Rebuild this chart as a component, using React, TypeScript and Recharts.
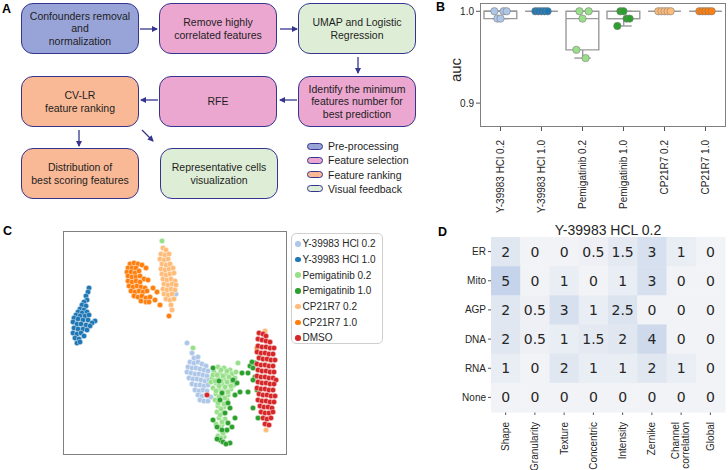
import React from 'react'
import { ComposedChart, ScatterChart, Bar, Scatter, XAxis, YAxis } from 'recharts'

const FONT = '"Liberation Sans", Arial, Helvetica, sans-serif'
const INK = '#262626'
const NAVY = '#35358f'

// Panel B: cross-validated AUC per treatment
const aucGroups = ['Y-39983 HCl 0.2', 'Y-39983 HCl 1.0', 'Pemigatinib 0.2', 'Pemigatinib 1.0', 'CP21R7 0.2', 'CP21R7 1.0']
const aucHcl02 = [1.0, 0.992, 0.992, 1.0, 1.0]
const aucHcl10 = [1.0, 1.0, 1.0, 1.0, 1.0]
const aucPem02 = [0.958, 1.0, 0.992, 0.949, 1.0]
const aucPem10 = [0.984, 1.0, 1.0, 0.992, 0.992]
const aucCp02 = [1.0, 1.0, 1.0, 1.0, 1.0]
const aucCp10 = [1.0, 1.0, 1.0, 1.0, 1.0]
const aucTicks = [0.9, 1.0]

// Panel C: UMAP embedding, [umap1, umap2]
const umapHcl02 = [[12.4,11.2],[12.9,10.2],[13.1,9.7],[13.5,9.8],[12.7,9.3],[13.1,9.2],[13.5,9.3],[13.9,9.1],[14.3,8.9],[12.5,8.8],[12.9,8.7],[13.3,8.7],[13.7,8.6],[14.1,8.5],[14.5,8.4],[12.4,8.3],[12.8,8.2],[13.2,8.1],[13.6,8.1],[14.0,8.0],[14.4,7.9],[12.6,7.7],[13.0,7.6],[13.4,7.6],[13.8,7.5],[14.2,7.4],[14.6,7.5],[12.9,7.1],[13.3,7.0],[13.7,7.0],[14.1,6.9],[14.5,7.0],[13.2,6.5],[13.6,6.4],[14.0,6.5],[14.4,6.4],[13.5,6.0],[13.9,5.9],[14.3,6.0],[13.7,5.5],[14.1,5.4],[14.5,5.4],[14.8,5.8],[11.3,16.1]]
const umapHcl10 = [[2.6,16.7],[2.5,16.3],[2.3,15.9],[2.4,15.5],[2.1,15.3],[1.9,15.0],[2.3,14.9],[1.7,14.6],[2.1,14.5],[1.5,14.3],[1.9,14.2],[2.4,14.3],[1.3,14.0],[1.7,13.9],[2.2,13.9],[2.6,14.0],[1.1,13.7],[1.5,13.6],[2.0,13.5],[2.5,13.5],[3.2,13.4],[2.9,13.2],[1.0,13.3],[1.4,13.1],[1.8,13.1],[2.3,13.0],[2.7,12.9],[1.1,12.7],[1.5,12.6],[2.0,12.6],[2.4,12.5],[1.0,12.2],[1.4,12.1],[1.8,12.2],[1.2,11.7],[1.6,11.6],[2.1,11.9],[1.4,11.2],[1.7,11.3]]
const umapPem02 = [[13.0,10.7],[17.5,9.2],[15.5,8.8],[16.1,8.7],[16.7,8.5],[15.1,8.3],[15.7,8.2],[16.3,8.1],[16.9,8.1],[17.3,8.3],[14.9,7.7],[15.5,7.7],[16.1,7.6],[16.7,7.5],[15.3,7.2],[15.9,7.1],[16.5,7.1],[17.1,7.0],[15.0,6.7],[15.6,6.6],[16.2,6.5],[16.8,6.6],[15.3,6.1],[15.9,6.0],[16.5,6.0],[15.2,5.5],[15.8,5.4],[16.4,5.5],[15.5,4.9],[16.1,4.8],[15.4,4.3],[16.0,4.2],[15.6,3.7],[16.2,3.6],[15.3,3.1],[15.9,3.0],[15.7,2.5],[16.3,2.4],[15.5,1.9],[16.1,1.8],[15.8,1.4],[15.0,8.0],[14.8,7.3],[9.9,21.4],[19.7,10.0],[20.5,9.5],
  [15.8,8.5],[16.4,8.4],[15.4,8.0],[16.0,7.9],[16.6,7.8],[17.2,7.7],[15.2,7.4],[15.8,7.4],[16.4,7.3],[16.9,7.3],[15.6,6.9],[16.2,6.8],[16.8,6.9],[15.3,6.4],[15.9,6.3],[16.5,6.3],[15.6,5.8],[16.2,5.7],[15.5,5.2],[16.1,5.1],[15.8,4.6],[15.7,4.0],[15.9,3.3],[15.6,2.8],[16.0,2.2],[15.8,1.7]]
const umapPem10 = [[15.6,7.4],[17.9,8.2],[18.7,8.9],[19.2,9.2],[18.5,8.2],[19.4,6.5],[17.7,6.3],[18.5,6.3],[19.0,4.7],[19.5,3.7],[15.0,3.5],[17.2,3.7],[16.7,4.7],[15.9,6.2],[16.5,5.2],[16.4,2.5],[15.7,1.5],[16.0,1.3],[15.4,1.6],[16.9,2.8],[17.4,7.2],[17.0,7.5],[15.7,5.5],[16.2,4.2],[16.5,3.2],[15.9,2.5],[15.4,2.8],[18.9,9.3],[19.0,8.7],[19.2,7.8],[19.0,7.5],[16.7,1.2],[16.3,1.1],[15.0,8.7],[17.2,6.0]]
const umapCp02 = [[10.0,20.7],[10.3,20.5],[9.8,20.1],[10.2,20.0],[10.6,20.1],[9.7,19.6],[10.1,19.5],[10.5,19.6],[9.9,19.1],[10.3,19.0],[10.7,19.1],[9.8,18.6],[10.2,18.5],[10.6,18.6],[11.0,18.7],[9.9,18.1],[10.3,18.0],[10.7,18.1],[11.1,18.2],[10.0,17.6],[10.4,17.5],[10.8,17.6],[11.2,17.4],[10.1,17.1],[10.5,17.0],[10.9,17.1],[11.3,17.0],[10.0,16.6],[10.4,16.5],[10.8,16.6],[11.2,16.5],[10.1,16.1],[10.5,16.0],[10.9,16.1],[10.3,15.6],[10.7,15.5],[11.1,15.6],[10.8,15.0],[10.9,14.5],[20.2,12.4],[20.3,2.5]]
const umapCp10 = [[6.7,19.1],[7.1,19.2],[7.5,19.1],[7.9,19.0],[8.3,18.7],[6.5,18.7],[6.9,18.7],[7.3,18.7],[6.4,18.3],[6.8,18.3],[7.2,18.2],[7.6,18.4],[6.5,17.9],[6.9,17.8],[7.3,17.8],[7.7,17.9],[8.1,17.6],[8.5,17.5],[6.5,17.4],[6.9,17.3],[7.3,17.4],[7.7,17.3],[6.6,16.9],[7.0,16.8],[7.4,16.9],[7.8,16.8],[8.2,16.7],[6.8,16.4],[7.2,16.3],[7.6,16.4],[8.0,16.3],[8.4,16.4],[7.1,15.9],[7.5,15.8],[7.9,15.9],[8.3,15.7],[8.7,15.8],[7.8,15.4],[8.3,15.3],[8.6,15.3],[9.0,16.7],[9.4,16.3],[9.2,15.5],[9.7,15.0],[10.6,13.9],[19.4,10.7]]
const umapDmso = [[19.6,12.2],[20.0,12.1],[20.3,11.9],[19.5,11.6],[19.9,11.5],[20.3,11.4],[20.7,11.3],[19.5,10.9],[19.9,10.8],[20.3,10.8],[20.7,10.7],[21.1,10.7],[19.4,10.3],[19.8,10.2],[20.2,10.2],[20.6,10.1],[21.0,10.1],[19.6,9.7],[20.0,9.6],[20.4,9.6],[20.8,9.5],[21.2,9.5],[19.4,9.1],[19.8,9.0],[20.2,9.0],[20.6,8.9],[21.0,8.9],[19.5,8.5],[19.9,8.4],[20.3,8.4],[20.7,8.3],[21.1,8.3],[19.4,7.9],[19.8,7.8],[20.2,7.8],[20.6,7.7],[21.0,7.7],[21.3,7.5],[19.5,7.3],[19.9,7.2],[20.3,7.2],[20.7,7.1],[21.1,7.1],[19.4,6.7],[19.8,6.6],[20.2,6.6],[20.6,6.5],[21.0,6.5],[19.6,6.1],[20.0,6.0],[20.4,6.0],[20.8,5.9],[21.2,5.9],[19.5,5.5],[19.9,5.4],[20.3,5.4],[20.7,5.3],[21.1,5.3],[19.7,4.9],[20.1,4.8],[20.5,4.8],[20.9,4.7],[19.8,4.3],[20.2,4.2],[20.6,4.2],[21.0,4.3],[20.0,3.7],[20.4,3.6],[20.8,3.7],[20.2,3.1],[20.6,3.0],[14.4,6.0]]

// Panel D: best-scoring feature counts, rows = channels, columns = feature types
const channels = ['ER', 'Mito', 'AGP', 'DNA', 'RNA', 'None']
const featureTypes = ['Shape', 'Granularity', 'Texture', 'Concentric', 'Intensity', 'Zernike', 'Channel correlation', 'Global']
const countsER = [2, 0, 0, 0.5, 1.5, 3, 1, 0]
const countsMito = [5, 0, 1, 0, 1, 3, 0, 0]
const countsAGP = [2, 0.5, 3, 1, 2.5, 0, 0, 0]
const countsDNA = [2, 0.5, 1, 1.5, 2, 4, 0, 0]
const countsRNA = [1, 0, 2, 1, 1, 2, 1, 0]
const countsNone = [0, 0, 0, 0, 0, 0, 0, 0]

const TREAT_COLORS = ['#aec7e8', '#1f77b4', '#98df8a', '#2ca02c', '#ffbb78', '#ff7f0e', '#d62728']

// ---------- Panel A (flow diagram) ----------
const STEP = { pre: '#98a4d8', sel: '#eba7d0', rank: '#f9b996', vis: '#deeed6' }

const flowBoxes = [
  { lines: ['Confounders removal', 'and', 'normalization'], kind: 'pre', left: 21, top: 3 },
  { lines: ['Remove highly', 'correlated features'], kind: 'sel', left: 159, top: 3 },
  { lines: ['UMAP and Logistic', 'Regression'], kind: 'vis', left: 298, top: 3 },
  { lines: ['Identify the minimum', 'features number for', 'best prediction'], kind: 'sel', left: 298, top: 76 },
  { lines: ['RFE'], kind: 'sel', left: 159, top: 76 },
  { lines: ['CV-LR', 'feature ranking'], kind: 'rank', left: 21, top: 76 },
  { lines: ['Distribution of', 'best scoring features'], kind: 'rank', left: 21, top: 148 },
  { lines: ['Representative cells', 'visualization'], kind: 'vis', left: 160, top: 148 },
]

const flowLegend = [
  { label: 'Pre-processing', kind: 'pre' },
  { label: 'Feature selection', kind: 'sel' },
  { label: 'Feature ranking', kind: 'rank' },
  { label: 'Visual feedback', kind: 'vis' },
]

const arrows = [
  [140, 29, 157, 29],
  [280, 29, 297, 29],
  [358, 57, 358, 73],
  [297, 100, 280, 100],
  [158, 100, 141, 100],
  [79, 130, 79, 146],
  [142, 130, 153, 141],
]

function PanelA() {
  return (
    <>
      {flowBoxes.map((b, i) => (
        <div
          key={i}
          style={{
            position: 'absolute', left: b.left, top: b.top, width: 116, height: 49,
            background: (STEP as any)[b.kind], border: `1.3px solid ${NAVY}`, borderRadius: 12,
            display: 'flex', flexDirection: 'column', alignItems: 'center', justifyContent: 'center',
            fontSize: 10.5, lineHeight: '12.6px', color: '#1e1e1e', textAlign: 'center',
          }}
        >
          {b.lines.map((l) => <div key={l}>{l}</div>)}
        </div>
      ))}
      <svg style={{ position: 'absolute', left: 0, top: 0 }} width={440} height={205}>
        <defs>
          <marker id="ah" markerWidth="6" markerHeight="6" refX="5" refY="3" orient="auto" markerUnits="userSpaceOnUse">
            <path d="M0,0 L6,3 L0,6 z" fill={NAVY} />
          </marker>
        </defs>
        {arrows.map((a, i) => (
          <line key={i} x1={a[0]} y1={a[1]} x2={a[2]} y2={a[3]} stroke={NAVY} strokeWidth={1.3} markerEnd="url(#ah)" />
        ))}
      </svg>
      {flowLegend.map((f, i) => (
        <div key={f.label} style={{ position: 'absolute', left: 307, top: 139 + i * 14.3, height: 14, display: 'flex', alignItems: 'center' }}>
          <div style={{ width: 14, height: 5, background: (STEP as any)[f.kind], border: `1.3px solid ${NAVY}`, borderRadius: 4 }} />
          <span style={{ marginLeft: 5, fontSize: 10.5, color: '#1e1e1e' }}>{f.label}</span>
        </div>
      ))}
    </>
  )
}

// ---------- Panel B (box + strip plot) ----------
const aucSeries = [aucHcl02, aucHcl10, aucPem02, aucPem10, aucCp02, aucCp10]

function quantile(sorted: number[], p: number) {
  const pos = (sorted.length - 1) * p
  const lo = Math.floor(pos)
  const hi = Math.ceil(pos)
  return sorted[lo] + (sorted[hi] - sorted[lo]) * (pos - lo)
}

const boxRows = aucGroups.map((name, g) => {
  const s = [...aucSeries[g]].sort((a, b) => a - b)
  const q1 = quantile(s, 0.25)
  const q3 = quantile(s, 0.75)
  const med = quantile(s, 0.5)
  const iqr = q3 - q1
  const lo = Math.min(...s.filter((v) => v >= q1 - 1.5 * iqr))
  const hi = Math.max(...s.filter((v) => v <= q3 + 1.5 * iqr))
  return { name, box: [q1, q3], whisker: [lo, hi], med, lo, hi }
})

const pointRows = aucSeries.flatMap((vals, g) =>
  vals.map((v, i) => ({ x: g + (i / (vals.length - 1) - 0.5) * 0.3, auc: v, g }))
)

const B_BAND = 246 / 6
const BOX_W = B_BAND * 0.8

const hLine = (w: number) => (p: any) => (
  <line x1={p.cx - w / 2} x2={p.cx + w / 2} y1={p.cy} y2={p.cy} stroke="#9a9a9a" strokeWidth={1.4} />
)

function BTick({ x, y, payload }: any) {
  return (
    <text x={x} y={y + 7} transform={`rotate(-90 ${x} ${y + 7})`} textAnchor="end" dominantBaseline="central"
      fontSize={10} fill={INK} fontFamily={FONT}>{payload.value}</text>
  )
}

function PanelB() {
  return (
    <div style={{ position: 'absolute', left: 440, top: 0 }}>
      <ComposedChart width={288} height={230} data={boxRows} margin={{ top: 3, right: 2, left: 0, bottom: 0 }}>
        <XAxis xAxisId="box" dataKey="name" type="category" allowDuplicatedCategory={false} tick={<BTick />} tickSize={4}
          tickLine={{ stroke: '#555' }} axisLine={false} interval={0} height={103} />
        <XAxis xAxisId="wh" dataKey="name" type="category" allowDuplicatedCategory={false} hide />
        <XAxis xAxisId="num" dataKey="x" type="number" domain={[-0.5, 5.5]} hide />
        <YAxis domain={[0.874, 1.009]} ticks={aucTicks} width={40} tickFormatter={(v) => v.toFixed(1)}
          tick={{ fontSize: 10, fill: INK, fontFamily: FONT }} tickSize={4} tickLine={{ stroke: '#555' }} axisLine={false} />
        <Bar xAxisId="wh" dataKey="whisker" barSize={1.4} fill="#9a9a9a" isAnimationActive={false} />
        <Bar xAxisId="box" dataKey="box" barSize={BOX_W} fill="#fff" stroke="#9a9a9a" strokeWidth={1.4} isAnimationActive={false} />
        <Scatter xAxisId="box" dataKey="med" shape={hLine(BOX_W)} isAnimationActive={false} />
        <Scatter xAxisId="box" dataKey="lo" shape={hLine(BOX_W / 2)} isAnimationActive={false} />
        <Scatter xAxisId="box" dataKey="hi" shape={hLine(BOX_W / 2)} isAnimationActive={false} />
        <Scatter xAxisId="num" data={pointRows} dataKey="auc" isAnimationActive={false}
          shape={(p: any) => <circle cx={p.cx} cy={p.cy} r={3.7} fill={TREAT_COLORS[p.payload.g]} stroke="#808080" strokeWidth={0.6} />} />
      </ComposedChart>
      <div style={{ position: 'absolute', left: 40, top: 3, width: 246, height: 124, border: '1.3px solid #808080', boxSizing: 'border-box', pointerEvents: 'none' }} />
      <div style={{ position: 'absolute', left: 15, top: 70, transform: 'translate(-50%,-50%) rotate(-90deg)', fontSize: 15, color: INK }}>auc</div>
    </div>
  )
}

// ---------- Panel C (UMAP scatter) ----------
const umapSets = [
  { name: 'Y-39983 HCl 0.2', pts: umapHcl02 },
  { name: 'Y-39983 HCl 1.0', pts: umapHcl10 },
  { name: 'Pemigatinib 0.2', pts: umapPem02 },
  { name: 'Pemigatinib 1.0', pts: umapPem10 },
  { name: 'CP21R7 0.2', pts: umapCp02 },
  { name: 'CP21R7 1.0', pts: umapCp10 },
  { name: 'DMSO', pts: umapDmso },
]

function PanelC() {
  return (
    <>
      <div style={{ position: 'absolute', left: 63, top: 231 }}>
        <ScatterChart width={224} height={224} margin={{ top: 0, right: 0, bottom: 0, left: 0 }}>
          <XAxis type="number" dataKey="x" domain={[0, 22.4]} hide />
          <YAxis type="number" dataKey="y" domain={[0, 22.4]} hide />
          {umapSets.map((s, i) => (
            <Scatter key={s.name} name={s.name} data={s.pts.map(([x, y]) => ({ x, y }))} isAnimationActive={false}
              shape={(p: any) => <circle cx={p.cx} cy={p.cy} r={2.75} fill={TREAT_COLORS[i]} stroke="#fff" strokeWidth={0.4} />} />
          ))}
        </ScatterChart>
        <div style={{ position: 'absolute', left: 0, top: 0, width: 224, height: 224, border: '1.3px solid #808080', boxSizing: 'border-box' }} />
      </div>
      <div style={{ position: 'absolute', left: 291, top: 233, width: 92, height: 111, boxSizing: 'border-box', border: '1px solid #cfcfcf', borderRadius: 5, padding: '2px 0 0 3px' }}>
        {umapSets.map((s, i) => (
          <div key={s.name} style={{ display: 'flex', alignItems: 'center', height: 15.7, fontSize: 10, color: INK }}>
            <span style={{ width: 5.5, height: 5.5, borderRadius: '50%', background: TREAT_COLORS[i], marginRight: 2 }} />
            {s.name}
          </div>
        ))}
      </div>
    </>
  )
}

// ---------- Panel D (heatmap) ----------
const countRows = [countsER, countsMito, countsAGP, countsDNA, countsRNA, countsNone]
const cells = channels.flatMap((ch, r) => featureTypes.map((feat, c) => ({ ch, feat, v: countRows[r][c] })))

const HM_W = 234
const HM_H = 175
const lo = [242, 243, 246]
const hi = [197, 212, 234]
const heatColor = (v: number) => {
  const t = Math.min(v / 5, 1)
  const c = lo.map((a, k) => Math.round(a + (hi[k] - a) * t))
  return `rgb(${c.join(',')})`
}

function HeatCell(p: any) {
  const w = HM_W / featureTypes.length
  const h = HM_H / channels.length
  return (
    <g>
      <rect x={p.cx - w / 2} y={p.cy - h / 2} width={w + 0.5} height={h + 0.5} fill={heatColor(p.payload.v)} />
      <text x={p.cx} y={p.cy} textAnchor="middle" dominantBaseline="central" fontSize={14}
        fontFamily='"DejaVu Sans", sans-serif' fill={INK}>{p.payload.v}</text>
    </g>
  )
}

function DTick({ x, y, payload }: any) {
  const parts = String(payload.value).split(' ')
  const two = parts.length > 1
  return (
    <text transform={`translate(${x},${y + 5}) rotate(-90)`} textAnchor="end" fontSize={10} fill={INK} fontFamily={FONT}>
      {two ? (
        <>
          <tspan x={0} y={-2}>{parts[0]}</tspan>
          <tspan x={0} y={8}>{parts[1]}</tspan>
        </>
      ) : (
        <tspan x={0} y={3.5}>{payload.value}</tspan>
      )}
    </text>
  )
}

function PanelD() {
  return (
    <div style={{ position: 'absolute', left: 440, top: 222 }}>
      <ScatterChart width={288} height={248} margin={{ top: 15, right: 3, bottom: 0, left: 0 }}>
        <XAxis type="category" dataKey="feat" allowDuplicatedCategory={false} interval={0} height={58}
          tick={<DTick />} tickSize={3} tickLine={{ stroke: '#555' }} axisLine={false} />
        <YAxis type="category" dataKey="ch" allowDuplicatedCategory={false} reversed interval={0} width={51}
          tick={{ fontSize: 10, fill: INK, fontFamily: FONT }} tickSize={3} tickLine={{ stroke: '#555' }} axisLine={false} />
        <Scatter data={cells} shape={HeatCell} isAnimationActive={false} />
      </ScatterChart>
      <div style={{ position: 'absolute', left: 51, width: 234, top: 0, textAlign: 'center', fontSize: 14, color: INK }}>Y-39983 HCL 0.2</div>
    </div>
  )
}

const panelLabel = (t: string, left: number, top: number) => (
  <div style={{ position: 'absolute', left, top, fontSize: 12.5, fontWeight: 'bold', color: '#000' }}>{t}</div>
)

export default function App() {
  return (
    <div style={{ position: 'absolute', left: 0, top: 0, width: 728, height: 470, background: '#fff', fontFamily: FONT, overflow: 'hidden' }}>
      <PanelA />
      <PanelB />
      <PanelC />
      <PanelD />
      {panelLabel('A', 2, 2)}
      {panelLabel('B', 436, 0)}
      {panelLabel('C', 3, 224)}
      {panelLabel('D', 438, 225)}
    </div>
  )
}
